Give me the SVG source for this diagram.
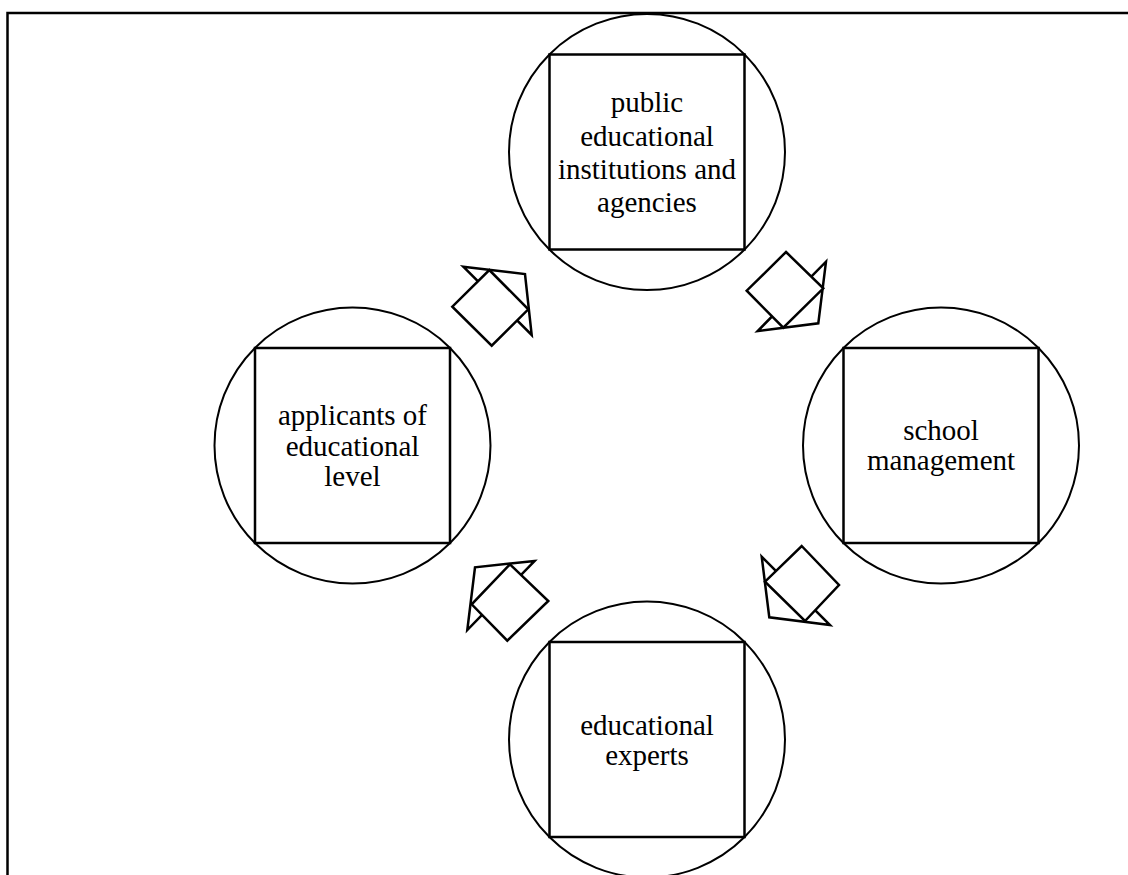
<svg xmlns="http://www.w3.org/2000/svg" width="1128" height="875" viewBox="0 0 1128 875">
<style>
.c{fill:#fff;stroke:#000;stroke-width:2}
.s{fill:none;stroke:#000;stroke-width:2.5}
.t{font-family:"Liberation Serif","Times New Roman",serif;font-size:29px;fill:#000;text-anchor:middle}
.a{fill:#fff;stroke:#000;stroke-width:2.5;stroke-linejoin:miter}
</style>
<rect width="1128" height="875" fill="#fff"/>
<path d="M7.5,880 V13 H1135" fill="none" stroke="#000" stroke-width="2.5"/>
<g id="node-top">
<circle class="c" cx="647" cy="152" r="138"/>
<rect class="s" x="549.5" y="54.5" width="195" height="195"/>
<text class="t" x="647" y="112">public</text>
<text class="t" x="647" y="146">educational</text>
<text class="t" x="647" y="178.5">institutions and</text>
<text class="t" x="647" y="211.5">agencies</text>
</g>
<g id="node-left">
<circle class="c" cx="352.5" cy="445.5" r="138"/>
<rect class="s" x="255" y="348" width="195" height="195"/>
<text class="t" x="352.5" y="425">applicants of</text>
<text class="t" x="352.5" y="455.5">educational</text>
<text class="t" x="352.5" y="486">level</text>
</g>
<g id="node-right">
<circle class="c" cx="941" cy="445.5" r="138"/>
<rect class="s" x="843.5" y="348" width="195" height="195"/>
<text class="t" x="941" y="440">school</text>
<text class="t" x="941" y="470">management</text>
</g>
<g id="node-bottom">
<circle class="c" cx="647" cy="739.5" r="138"/>
<rect class="s" x="549.5" y="642" width="195" height="195"/>
<text class="t" x="647" y="735">educational</text>
<text class="t" x="647" y="765">experts</text>
</g>
<g id="connectors">
<g id="arrow-left-top">
<polygon class="a" points="463.3,266.7 525,274 531.7,335"/>
<polygon class="a" points="489.3,270 528.3,309.3 491.7,345.7 452.3,306.7"/>
</g>
<g id="arrow-top-right">
<polygon class="a" points="826,261.7 818.3,323.3 757.7,331"/>
<polygon class="a" points="786,252 823.3,288.3 783.3,327.7 746.7,290.7"/>
</g>
<g id="arrow-right-bottom">
<polygon class="a" points="761.7,556.7 769.3,617.3 830,625"/>
<polygon class="a" points="801.7,546 839,585 805,621 765,581.7"/>
</g>
<g id="arrow-bottom-left">
<polygon class="a" points="534.5,561 475,567.3 467.3,630"/>
<polygon class="a" points="510,564.3 548.3,601 507.3,640.7 471.7,604.3"/>
</g>
</g>
</svg>
